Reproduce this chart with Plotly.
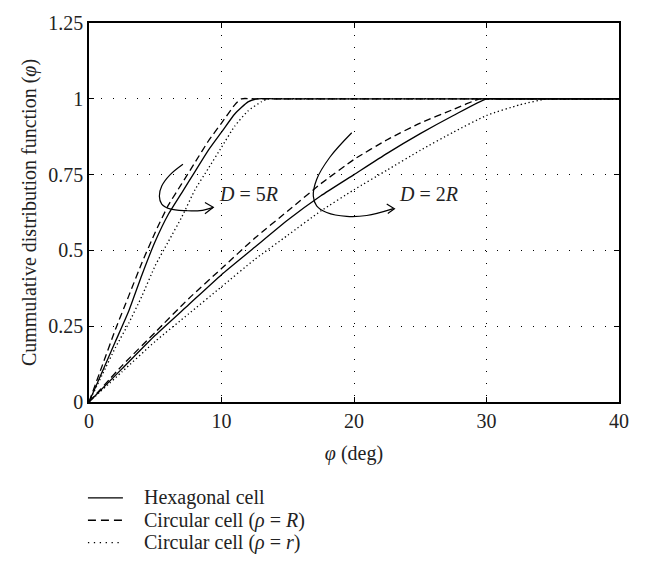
import plotly.graph_objects as go

# Angle (deg) and CDF samples for each cell model
# D = 5R
hex5_x = [0, 1, 2, 3, 4, 5, 6, 7, 8, 9, 10, 11, 12, 12.7, 14, 40]
hex5_y = [0, 0.10, 0.20, 0.30, 0.42, 0.53, 0.62, 0.69, 0.76, 0.83, 0.89, 0.95, 0.99, 1.0, 1.0, 1.0]
circR5_x = [0, 1, 2, 3, 4, 5, 6, 7, 8, 9, 10, 11, 11.5, 12.5, 40]
circR5_y = [0, 0.12, 0.24, 0.35, 0.46, 0.56, 0.65, 0.72, 0.79, 0.86, 0.92, 0.98, 1.0, 1.0, 1.0]
circr5_x = [0, 1, 2, 3, 4, 5, 6, 7, 8, 9, 10, 11, 12, 13, 13.5, 14.5, 40]
circr5_y = [0, 0.09, 0.18, 0.26, 0.35, 0.45, 0.53, 0.61, 0.70, 0.77, 0.84, 0.91, 0.96, 0.99, 1.0, 1.0, 1.0]

# D = 2R
hex2_x = [0, 2.5, 5, 7.5, 10, 12.5, 15, 17.5, 20, 22.5, 25, 27.5, 30, 31, 40]
hex2_y = [0, 0.11, 0.22, 0.32, 0.42, 0.51, 0.60, 0.68, 0.75, 0.82, 0.885, 0.945, 1.0, 1.0, 1.0]
circR2_x = [0, 2.5, 5, 7.5, 10, 12.5, 15, 17.5, 20, 22.5, 25, 27.5, 29.5, 30.5, 40]
circR2_y = [0, 0.12, 0.23, 0.34, 0.44, 0.54, 0.63, 0.72, 0.80, 0.865, 0.92, 0.965, 1.0, 1.0, 1.0]
circr2_x = [0, 2.5, 5, 7.5, 10, 12.5, 15, 17.5, 20, 22.5, 25, 27.5, 30, 32.5, 34.6, 36, 40]
circr2_y = [0, 0.10, 0.20, 0.29, 0.38, 0.47, 0.55, 0.63, 0.70, 0.765, 0.83, 0.89, 0.945, 0.98, 1.0, 1.0, 1.0]

x_ticks = [0, 10, 20, 30, 40]
y_ticks = [0, 0.25, 0.5, 0.75, 1, 1.25]
y_tick_text = ["0", "0.25", "0.5", "0.75", "1", "1.25"]

legend_names = ["Hexagonal cell",
                "Circular cell (<i>ρ</i> = <i>R</i>)",
                "Circular cell (<i>ρ</i> = <i>r</i>)"]

# Curved pointer arrows for the two D labels
arrow5_x = [7.09, 6.11, 5.49, 5.31, 5.49, 6.11, 7.37, 8.38, 9.38]
arrow5_y = [0.784, 0.749, 0.712, 0.679, 0.653, 0.637, 0.631, 0.631, 0.642]
head5_x = [8.75, 9.38, 8.75]
head5_y = [0.658, 0.642, 0.621]
arrow2_x = [19.83, 18.19, 17.18, 16.93, 17.18, 17.94, 19.45, 20.96, 22.97]
arrow2_y = [0.888, 0.808, 0.734, 0.679, 0.647, 0.625, 0.612, 0.615, 0.638]
head2_x = [22.47, 23.05, 22.55]
head2_y = [0.653, 0.637, 0.622]

FONT = "Liberation Serif"
FS = 20
TXT = "#222"
DASH = "7px,4px"
DOT = "1.3px,2.7px"
LW = 1.3

fig = go.Figure()

series = [
    (hex2_x, hex2_y, "solid", legend_names[0]),
    (circR2_x, circR2_y, DASH, legend_names[1]),
    (circr2_x, circr2_y, DOT, legend_names[2]),
    (hex5_x, hex5_y, "solid", legend_names[0]),
    (circR5_x, circR5_y, DASH, legend_names[1]),
    (circr5_x, circr5_y, DOT, legend_names[2]),
]
for xs, ys, dash, name in series:
    fig.add_trace(go.Scatter(
        x=xs, y=ys, mode="lines", name=name, showlegend=False,
        line=dict(color="black", width=LW, dash=dash, shape="spline", smoothing=0.5),
    ))

for ax_, ay_ in [(arrow5_x, arrow5_y), (arrow2_x, arrow2_y)]:
    fig.add_trace(go.Scatter(x=ax_, y=ay_, mode="lines", showlegend=False,
                             hoverinfo="skip",
                             line=dict(color="black", width=1.2, shape="spline")))
for hx, hy in [(head5_x, head5_y), (head2_x, head2_y)]:
    fig.add_trace(go.Scatter(x=hx, y=hy, mode="lines", showlegend=False,
                             hoverinfo="skip", line=dict(color="black", width=1.2)))

fig.add_annotation(x=12.0, y=0.686, text="<i>D</i> = 5<i>R</i>", showarrow=False,
                   font=dict(family=FONT, size=FS, color=TXT))
fig.add_annotation(x=25.6, y=0.686, text="<i>D</i> = 2<i>R</i>", showarrow=False,
                   font=dict(family=FONT, size=FS, color=TXT))

# Legend block below the axes: line samples + labels (paper coordinates)
legend_dash = ["solid", "8px,5px", "1.3px,4.6px"]
legend_rows_y = [-0.253, -0.312, -0.371]
for name, dash, yy in zip(legend_names, legend_dash, legend_rows_y):
    fig.add_shape(type="line", xref="paper", yref="paper",
                  x0=-0.002, x1=0.064, y0=yy, y1=yy,
                  line=dict(color="black", width=1.3, dash=dash))
    fig.add_annotation(xref="paper", yref="paper", x=0.1, y=yy, xanchor="left",
                       yanchor="middle", text=name, showarrow=False,
                       font=dict(family=FONT, size=FS, color=TXT))

axis_common = dict(
    showline=True, linecolor="black", linewidth=1.5, mirror="ticks",
    ticks="inside", ticklen=5, tickcolor="black", tickwidth=1.2,
    showgrid=True, gridcolor="black", gridwidth=1, griddash="1.2px,10.8px",
    zeroline=False, tickfont=dict(family=FONT, size=FS, color=TXT),
)

fig.update_xaxes(range=[0, 40], tickvals=x_ticks,
                 title=dict(text="<i>φ</i> (deg)", font=dict(family=FONT, size=FS, color=TXT),
                            standoff=15),
                 **axis_common)
fig.update_yaxes(range=[0, 1.25], tickvals=y_ticks, ticktext=y_tick_text,
                 title=dict(text="Cummulative distribution function (<i>φ</i>)",
                            font=dict(family=FONT, size=FS, color=TXT), standoff=6),
                 **axis_common)

fig.update_layout(
    width=649, height=562,
    margin=dict(l=89, r=30, t=12, b=160),
    plot_bgcolor="white", paper_bgcolor="white",
    showlegend=False,
)

fig.write_html("out.html")
